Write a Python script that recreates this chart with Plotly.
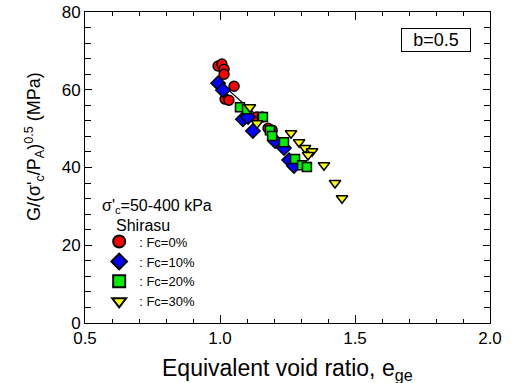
import plotly.graph_objects as go

# Data: equivalent void ratio (e_ge) and normalized G
fc0_e = [0.993, 1.007, 1.015, 1.015, 1.052, 1.019, 1.033, 1.137, 1.156, 1.178, 1.193]
fc0_g = [66.1, 66.6, 65.3, 64.0, 60.9, 57.6, 57.3, 53.0, 53.0, 50.1, 49.6]

fc10_e = [0.993, 1.011, 1.085, 1.104, 1.122, 1.204, 1.237, 1.256, 1.274]
fc10_g = [61.7, 59.9, 52.4, 53.0, 49.4, 46.8, 45.0, 41.9, 40.4]

fc20_e = [1.074, 1.100, 1.159, 1.185, 1.193, 1.237, 1.278, 1.304, 1.322]
fc20_g = [55.5, 55.0, 53.0, 49.6, 48.1, 46.5, 42.2, 40.6, 40.1]

fc30_e = [1.111, 1.137, 1.263, 1.293, 1.315, 1.341, 1.326, 1.385, 1.426, 1.452]
fc30_g = [55.5, 51.4, 48.8, 46.5, 45.0, 44.2, 43.2, 40.6, 36.0, 32.1]

fit_e = [1.0, 1.15]
fit_g = [61.9, 52.5]

x_ticks = [0.5, 1.0, 1.5, 2.0]
y_ticks = [0, 20, 40, 60, 80]

FONT = "Liberation Sans, Arial, sans-serif"

fig = go.Figure()

fig.add_trace(go.Scatter(x=fit_e, y=fit_g, mode="lines",
                         line=dict(color="black", width=1.2), showlegend=False))

series = [
    (fc0_e, fc0_g, ": Fc=0%", "circle", "#ff0000", 10),
    (fc10_e, fc10_g, ": Fc=10%", "diamond", "#0000ff", 11),
    (fc20_e, fc20_g, ": Fc=20%", "square", "#00ee00", 9),
    (fc30_e, fc30_g, ": Fc=30%", "triangle-down", "#ffff00", 10),
]
for ex, gy, name, sym, col, sz in series:
    fig.add_trace(go.Scatter(
        x=ex, y=gy, mode="markers", name=name,
        marker=dict(symbol=sym, color=col, size=sz,
                    line=dict(color="black", width=1.5)),
    ))

fig.update_layout(
    width=518, height=383,
    margin=dict(l=85, r=28, t=12, b=60, autoexpand=False),
    plot_bgcolor="white", paper_bgcolor="white",
    font=dict(family=FONT, color="black", size=16),
    legend=dict(x=0.035, y=0.31, xanchor="left", yanchor="top",
                bgcolor="rgba(0,0,0,0)", font=dict(size=13),
                itemsizing="constant", tracegroupgap=0),
    showlegend=True,
)

fig.update_xaxes(
    range=[0.5, 2.0], tickvals=x_ticks, ticktext=[f"{v:.1f}" for v in x_ticks],
    showline=True, linecolor="black", linewidth=1, mirror="allticks",
    ticks="inside", ticklen=8, tickcolor="black", tickwidth=1,
    minor=dict(dtick=0.1, ticks="inside", ticklen=4, tickcolor="black", tickwidth=1),
    showgrid=False, zeroline=False, tickfont=dict(size=17), automargin=False,
)
fig.update_yaxes(
    range=[0, 80], tickvals=y_ticks,
    showline=True, linecolor="black", linewidth=1, mirror="allticks",
    ticks="inside", ticklen=7, tickcolor="black", tickwidth=1,
    minor=dict(dtick=4, ticks="inside", ticklen=6, tickcolor="black", tickwidth=1),
    showgrid=False, zeroline=False, tickfont=dict(size=17), automargin=False,
)

fig.add_annotation(
    x=-0.126, y=0.569, xref="paper", yref="paper", showarrow=False,
    text="G/(σ'<sub>c</sub>/P<sub>A</sub>)<sup>0.5</sup> (MPa)", textangle=-90,
    font=dict(size=18), xanchor="center", yanchor="middle")

fig.add_annotation(
    x=0.5, y=-0.151, xref="paper", yref="paper", showarrow=False,
    text="Equivalent void ratio, e<sub>ge</sub>",
    font=dict(size=23), xanchor="center", yanchor="middle")

fig.add_annotation(
    x=(436 - 85) / 405, y=0.91, xref="paper", yref="paper", showarrow=False,
    text="b=0.5", font=dict(size=18), bordercolor="black", borderwidth=1,
    borderpad=1, width=66, height=20, bgcolor="white",
    xanchor="center", yanchor="middle")

fig.add_annotation(
    x=(100 - 85) / 405, y=(323 - 206) / 311, xref="paper", yref="paper",
    showarrow=False, text="σ'<sub>c</sub>=50-400 kPa", font=dict(size=16),
    xanchor="left", yanchor="middle")

fig.add_annotation(
    x=(114 - 85) / 405, y=(323 - 225) / 311, xref="paper", yref="paper",
    showarrow=False, text="Shirasu", font=dict(size=16),
    xanchor="left", yanchor="middle")

fig.write_html(
    "out.html",
    config={"displayModeBar": False},
    post_script="document.body.style.margin='0';document.body.style.padding='0';"
                "document.documentElement.style.overflow='hidden';",
)
